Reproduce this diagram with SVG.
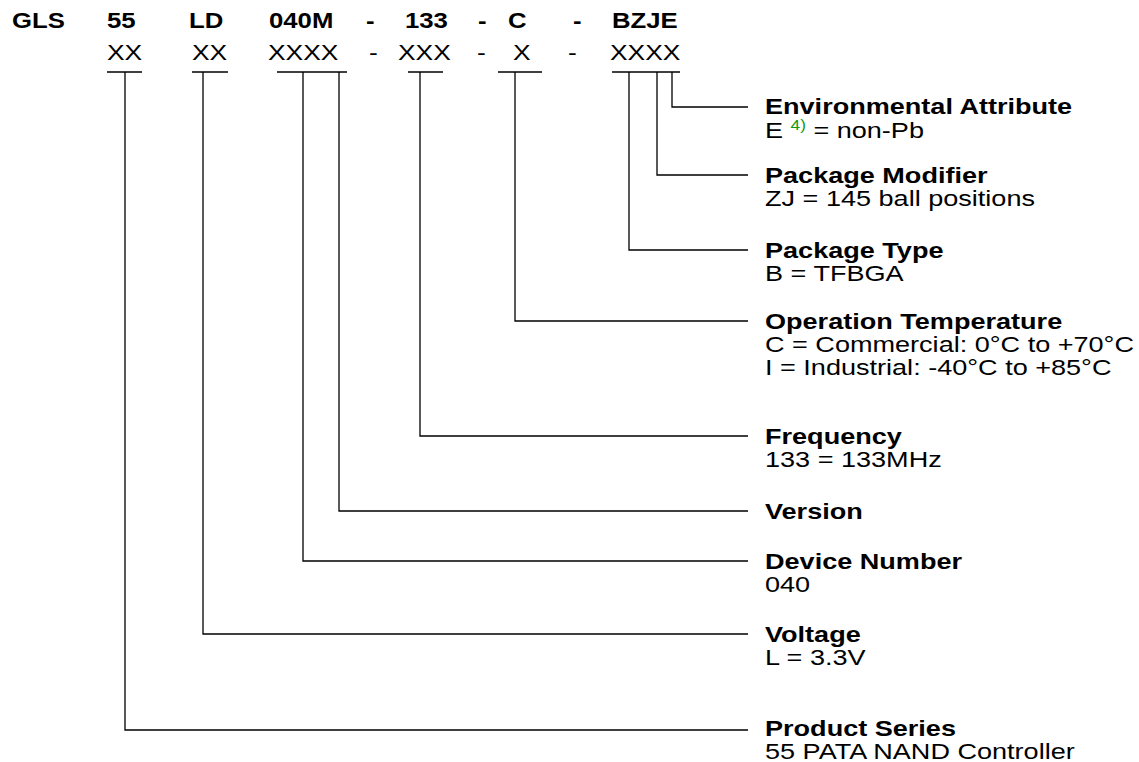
<svg xmlns="http://www.w3.org/2000/svg" width="1139" height="762" viewBox="0 0 1139 762">
<style>
text{font-family:"Liberation Sans",Arial,sans-serif;font-size:22px;fill:#000}
.b{font-weight:bold}
.sup{font-size:14px;fill:#119911}
.c{fill:none;stroke:#000;stroke-width:1.3}
</style>
<rect width="1139" height="762" fill="#fff"/>
<g id="header">
<text class="b" transform="translate(12,28) scale(1.17,1)">GLS</text>
<text class="b" transform="translate(107,28) scale(1.17,1)">55</text>
<text class="b" transform="translate(189,28) scale(1.17,1)">LD</text>
<text class="b" transform="translate(269,28) scale(1.17,1)">040M</text>
<text class="b" transform="translate(366,28) scale(1.17,1)">-</text>
<text class="b" transform="translate(405,28) scale(1.17,1)">133</text>
<text class="b" transform="translate(478,28) scale(1.17,1)">-</text>
<text class="b" transform="translate(508,28) scale(1.17,1)">C</text>
<text class="b" transform="translate(573,28) scale(1.17,1)">-</text>
<text class="b" transform="translate(612,28) scale(1.17,1)">BZJE</text>
<text transform="translate(107,60) scale(1.2,1)">XX</text>
<text transform="translate(192,60) scale(1.2,1)">XX</text>
<text transform="translate(268,60) scale(1.2,1)">XXXX</text>
<text transform="translate(369,60) scale(1.2,1)">-</text>
<text transform="translate(398,60) scale(1.2,1)">XXX</text>
<text transform="translate(477,60) scale(1.2,1)">-</text>
<text transform="translate(513,60) scale(1.2,1)">X</text>
<text transform="translate(568,60) scale(1.2,1)">-</text>
<text transform="translate(610,60) scale(1.2,1)">XXXX</text>
</g>
<g id="connectors">
<path class="c" d="M107 72H142M192 72H228M277 72H347M408 72H443M498 72H542M612 72H680"/>
<path class="c" d="M672 72V107H748"/>
<path class="c" d="M657 72V175H748"/>
<path class="c" d="M629 72V250H748"/>
<path class="c" d="M515 72V321H748"/>
<path class="c" d="M420 72V436H748"/>
<path class="c" d="M339 72V511H748"/>
<path class="c" d="M303 72V561H748"/>
<path class="c" d="M203 72V634H748"/>
<path class="c" d="M125 72V730H748"/>
</g>
<g id="env">
<text class="b" transform="translate(765,114) scale(1.23,1)">Environmental Attribute</text>
<text transform="translate(765,138) scale(1.23,1)">E <tspan class="sup" dy="-8">4)</tspan><tspan dy="8"> = non-Pb</tspan></text>
</g>
<g id="pkgmod">
<text class="b" transform="translate(765,183) scale(1.23,1)">Package Modifier</text>
<text transform="translate(765,206) scale(1.23,1)">ZJ = 145 ball positions</text>
</g>
<g id="pkgtype">
<text class="b" transform="translate(765,258) scale(1.23,1)">Package Type</text>
<text transform="translate(765,281) scale(1.23,1)">B = TFBGA</text>
</g>
<g id="optemp">
<text class="b" transform="translate(765,329) scale(1.23,1)">Operation Temperature</text>
<text transform="translate(765,352) scale(1.23,1)">C = Commercial: 0°C to +70°C</text>
<text transform="translate(765,375) scale(1.23,1)">I = Industrial: -40°C to +85°C</text>
</g>
<g id="freq">
<text class="b" transform="translate(765,444) scale(1.23,1)">Frequency</text>
<text transform="translate(765,467) scale(1.23,1)">133 = 133MHz</text>
</g>
<g id="version">
<text class="b" transform="translate(765,519) scale(1.23,1)">Version</text>
</g>
<g id="devnum">
<text class="b" transform="translate(765,569) scale(1.23,1)">Device Number</text>
<text transform="translate(765,592) scale(1.23,1)">040</text>
</g>
<g id="voltage">
<text class="b" transform="translate(765,642) scale(1.23,1)">Voltage</text>
<text transform="translate(765,665) scale(1.23,1)">L = 3.3V</text>
</g>
<g id="series">
<text class="b" transform="translate(765,736) scale(1.23,1)">Product Series</text>
<text transform="translate(765,759) scale(1.23,1)">55 PATA NAND Controller</text>
</g>
</svg>
